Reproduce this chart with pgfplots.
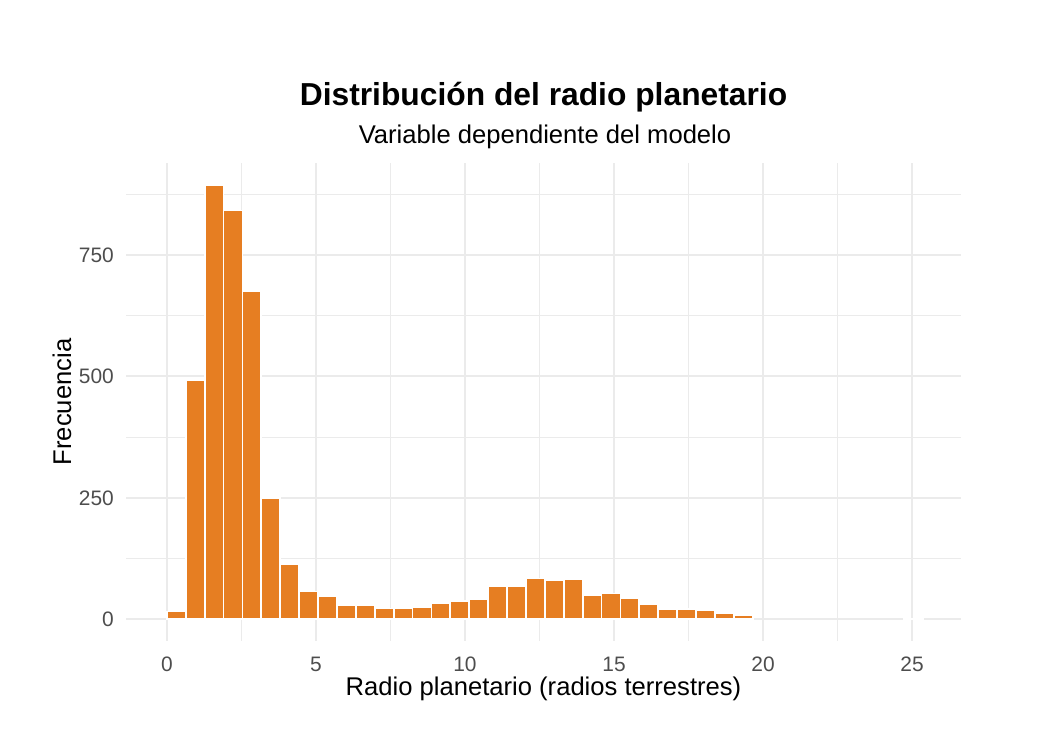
\documentclass[border=0pt]{standalone}
\usepackage{pgfplots}
\pgfplotsset{compat=1.18}
\usepackage{fontspec}
\setmainfont{Liberation Sans}

\definecolor{barfill}{HTML}{E67E22}
\definecolor{gridc}{HTML}{EBEBEB}
\definecolor{ticktext}{HTML}{4D4D4D}

% Histogram counts: bin centres (width 0.634) and frequencies
\pgfplotstableread{
x       n
0.318   16
0.952   493
1.586   895
2.220   842
2.854   675
3.488   250
4.122   113
4.756   57
5.390   47
6.024   30
6.658   29
7.292   22
7.926   22
8.560   26
9.194   33
9.828   37
10.462  42
11.096  69
11.730  69
12.364  84
12.998  80
13.632  82
14.266  49
14.900  53
15.534  43
16.168  31
16.802  21
17.436  21
18.070  19
18.704  13
19.338  8
25.044  1
}\radiotable

\begin{document}
\begin{tikzpicture}[x=1bp,y=1bp]
\useasboundingbox (0,0) rectangle (1048,748);
\begin{axis}[
  at={(126bp,107bp)}, anchor=south west,
  scale only axis, width=835bp, height=478bp,
  xmin=-1.37, xmax=26.64, ymin=-44.75, ymax=939.75,
  axis line style={draw=none},
  tick style={draw=none},
  xtick={0,5,10,15,20,25},
  minor xtick={2.5,7.5,12.5,17.5,22.5},
  ytick={0,250,500,750},
  minor ytick={125,375,625,875},
  grid=both,
  major grid style={gridc, line width=2bp},
  minor grid style={gridc, line width=1bp},
  /pgf/number format/assume math mode=true,
  ticklabel style={font=\fontsize{21}{21}\selectfont, text=ticktext, inner sep=0pt},
  xticklabel style={anchor=center, yshift=-19bp},
  yticklabel style={anchor=east, xshift=-12bp},
  ybar, bar width=0.634, bar shift=0pt,
]
\addplot[fill=barfill, draw=white, line width=1.8bp] table[x=x, y=n] {\radiotable};
\end{axis}

% Titles and axis titles
\node[anchor=base, font=\bfseries\fontsize{31.9}{36}\selectfont] at (543.5,642.5)
  {Distribución del radio planetario};
\node[anchor=base, font=\fontsize{25.7}{30}\selectfont] at (545,604.5)
  {Variable dependiente del modelo};
\node[anchor=base, font=\fontsize{25.7}{30}\selectfont] at (543.5,52)
  {Radio planetario (radios terrestres)};
\node[anchor=base, rotate=90, font=\fontsize{25.7}{30}\selectfont] at (71,346)
  {Frecuencia};
\end{tikzpicture}
\end{document}
